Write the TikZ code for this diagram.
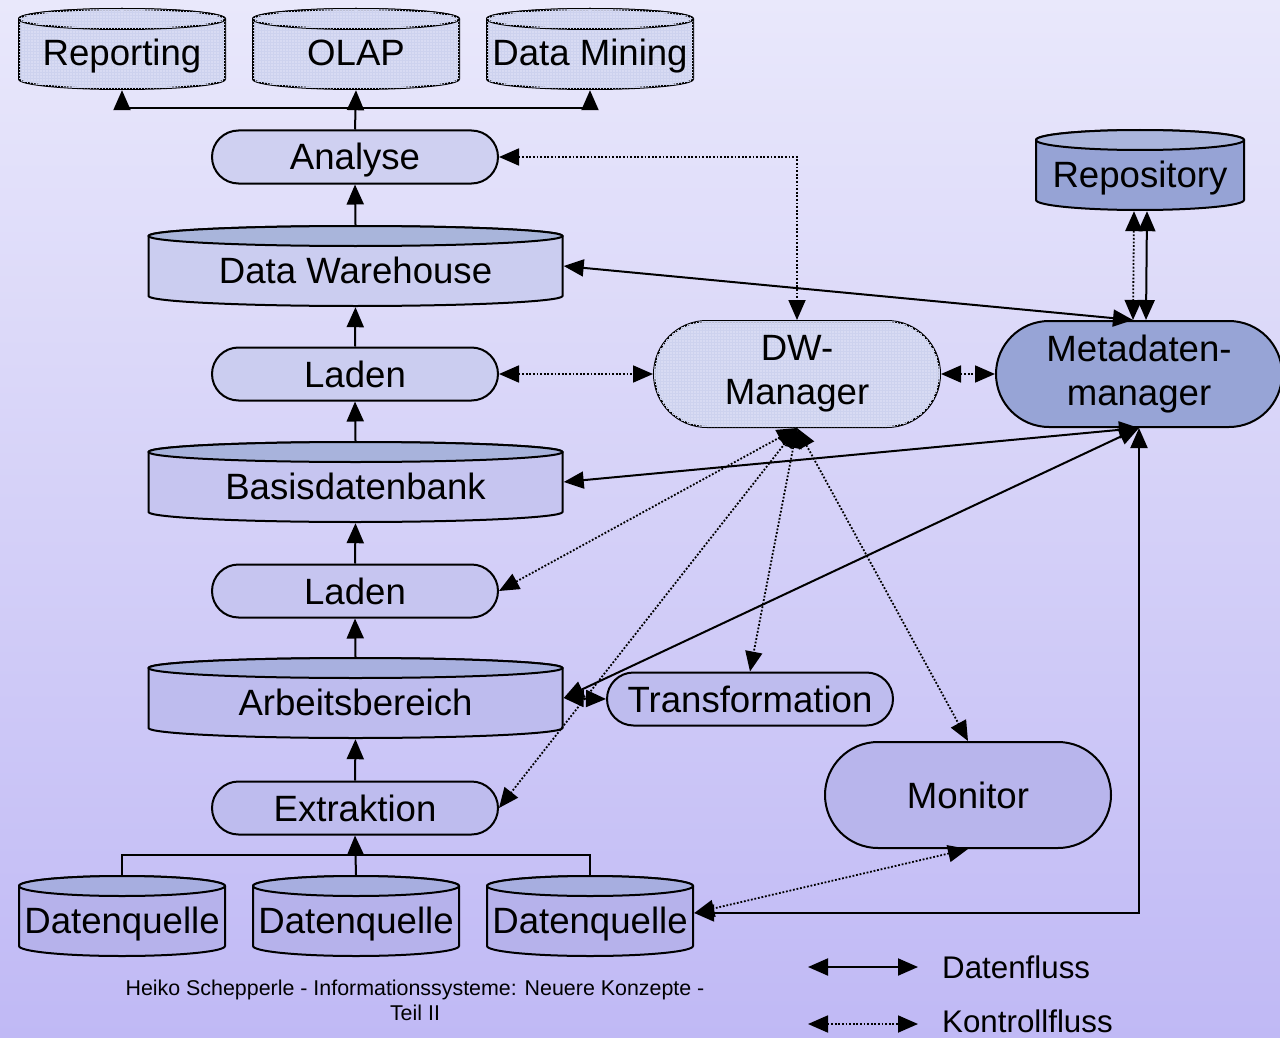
\documentclass[tikz,border=0pt]{standalone}
\usepackage{fontspec}
\setmainfont{Liberation Sans}
\usetikzlibrary{arrows.meta,shapes.misc,patterns}
\definecolor{bgtop}{HTML}{E9E8FB}
\definecolor{bgbot}{HTML}{C0B9F5}
\definecolor{gridfill}{HTML}{D8DBF3}
\definecolor{gridline}{HTML}{CDD2EE}
\definecolor{anafill}{HTML}{CFD0F1}
\definecolor{dwbody}{HTML}{CBCDF0}
\definecolor{dwtop}{HTML}{A9B5DB}
\definecolor{basisbody}{HTML}{C6C5F0}
\definecolor{basistop}{HTML}{A8B3DC}
\definecolor{arbbody}{HTML}{BEBCEE}
\definecolor{arbtop}{HTML}{A8B0DF}
\definecolor{dqbody}{HTML}{B6B2EB}
\definecolor{dqtop}{HTML}{A7AEE0}
\definecolor{repobody}{HTML}{96A3D5}
\definecolor{repotop}{HTML}{AAB5DC}
\definecolor{metafill}{HTML}{97A4D6}
\definecolor{monfill}{HTML}{B8B5EC}

\begin{document}
\begin{tikzpicture}[x=1pt,y=-1pt,>={Triangle[length=20pt,width=17pt]},
  every node/.style={font=\fontsize{36.6}{44}\selectfont},
  gridded/.style={fill=gridfill,postaction={pattern=grid,pattern color=gridline}},
  proc/.style={rounded rectangle,draw,line width=2pt,fill=#1,minimum width=286pt,minimum height=53pt,inner sep=0pt,text height=34pt,text depth=8pt},
  tool/.style={rounded rectangle,draw,line width=2pt,#1,minimum width=286pt,minimum height=106pt,inner sep=0pt,align=center},
  db/.style n args={3}{minimum width={2*#1pt+2pt},minimum height=82pt,inner sep=0pt,text height=42pt,text depth=8pt,
    path picture={
      \draw[line width=2pt,#3] ([shift={(-#1,-30)}]path picture bounding box.center) -- ++(0,60)
        arc[start angle=180,end angle=360,x radius=#1pt,y radius=10pt] -- ++(0,-60)
        arc[start angle=0,end angle=180,x radius=#1pt,y radius=10pt] -- cycle;
      \draw[line width=2pt,#2] ([yshift=30pt]path picture bounding box.center) ellipse[x radius=#1pt,y radius=10pt];
    }},
  flow/.style={line width=2pt,->},
  data/.style={line width=2pt,<->},
  ctrl/.style={line width=1.8pt,dash pattern=on 1.8pt off 1.8pt,<->}]

\shade[top color=bgtop,bottom color=bgbot] (0,0) rectangle (1280,1038);
\useasboundingbox (0,0) rectangle (1280,1038);

\node[db={103}{gridded}{gridded}] (rep) at (122,49) {Reporting};
\node[db={103}{gridded}{gridded}] (olap) at (356,49) {OLAP};
\node[db={103}{gridded}{gridded}] (mining) at (590,49) {Data Mining};
\node[proc=anafill] (analyse) at (355,157) {Analyse};
\node[db={207}{fill=dwtop}{fill=dwbody}] (dw) at (355.5,266) {Data Warehouse};
\node[proc=dwbody] (laden1) at (355,374) {Laden};
\node[db={207}{fill=basistop}{fill=basisbody}] (basis) at (355.5,482) {Basisdatenbank};
\node[proc=basisbody] (laden2) at (355,591) {Laden};
\node[db={207}{fill=arbtop}{fill=arbbody}] (arbeit) at (355.5,698) {Arbeitsbereich};
\node[proc=arbbody] (extr) at (355,808) {Extraktion};
\node[db={103}{fill=dqtop}{fill=dqbody}] (dq1) at (122,916) {Datenquelle};
\node[db={103}{fill=dqtop}{fill=dqbody}] (dq2) at (356,916) {Datenquelle};
\node[db={103}{fill=dqtop}{fill=dqbody}] (dq3) at (590,916) {Datenquelle};

\node[db={104}{fill=repotop}{fill=repobody}] (repo) at (1140,170) {Repository};
\node[tool=gridded] (dwm) at (797,374) {DW-\\Manager};
\node[tool={fill=metafill}] (meta) at (1139,374) {Metadaten-\\manager};
\node[proc=arbbody] (trans) at (750,699) {Transformation};
\node[tool={fill=monfill}] (mon) at (968,795) {Monitor};

\coordinate (split) at (356,108);
\coordinate (merge) at (356,855);
\draw[flow] (analyse.north) -- (olap.south);
\draw[flow] (split) -| (rep.south);
\draw[flow] (split) -| (mining.south);
\draw[flow] (dw.north) -- (analyse.south);
\draw[flow] (laden1.north) -- (dw.south);
\draw[flow] (basis.north) -- (laden1.south);
\draw[flow] (laden2.north) -- (basis.south);
\draw[flow] (arbeit.north) -- (laden2.south);
\draw[flow] (extr.north) -- (arbeit.south);
\draw[flow] (dq2.north) -- (extr.south);
\draw[line width=2pt] (dq1.north) |- (merge) -| (dq3.north);

\draw[ctrl] (analyse.east) -| (dwm.north);
\draw[data] (dw.east) -- ([xshift=-6pt]meta.north);
\draw[ctrl] ([xshift=-6pt]repo.south) -- ([xshift=-6pt]meta.north);
\draw[data] ([xshift=7pt]repo.south) -- ([xshift=7pt]meta.north);
\draw[ctrl] (laden1.east) -- (dwm.west);
\draw[ctrl] (dwm.east) -- (meta.west);
\draw[data] (basis.east) -- (meta.south);
\draw[ctrl] (dwm.south) -- (laden2.east);
\draw[ctrl] (dwm.south) -- (extr.east);
\draw[ctrl] (dwm.south) -- (trans.north);
\draw[ctrl] (dwm.south) -- (mon.north);
\draw[data] (meta.south) -- (arbeit.east);
\draw[data] (arbeit.east) -- (trans.west);
\draw[ctrl] (mon.south) -- ([yshift=3pt]dq3.east);
\draw[data] ([yshift=3pt]dq3.east) -| (meta.south);

\node[font=\fontsize{21.4}{25}\selectfont,align=center] (footer) at (415,1000) {Heiko Schepperle - Informationssysteme: Neuere Konzepte -\\Teil II};

\coordinate (d1) at (808,967);
\coordinate (d2) at (918,967);
\coordinate (k1) at (808,1024);
\coordinate (k2) at (918,1024);
\draw[data] (d1) -- (d2);
\draw[ctrl] (k1) -- (k2);
\node[font=\fontsize{31.3}{36}\selectfont,anchor=west,inner sep=0pt] (datenfluss) at (942,967) {Datenfluss};
\node[font=\fontsize{31.3}{36}\selectfont,anchor=west,inner sep=0pt] (kontrollfluss) at (942,1021) {Kontrollfluss};
\end{tikzpicture}
\end{document}
